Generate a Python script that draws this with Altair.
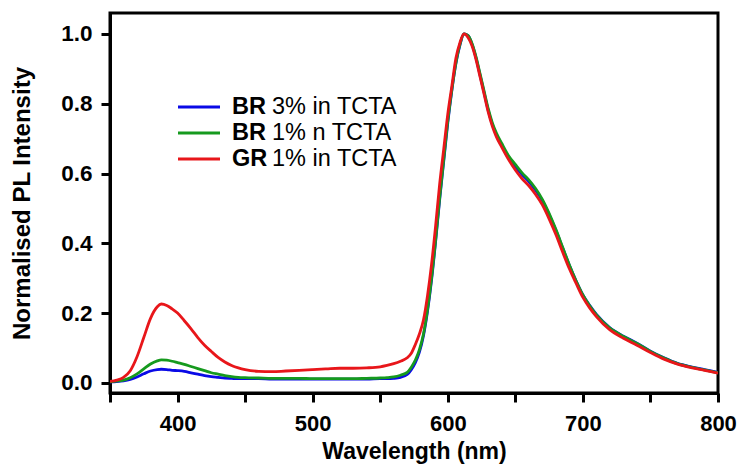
import altair as alt
import pandas as pd

wavelength = [350, 355, 360, 365, 370, 375, 380, 385, 388, 392, 396, 400, 405, 410, 415, 420, 425, 430, 435, 440,
              445, 450, 460, 470, 480, 490, 500, 510, 520, 530, 540, 550, 555, 560, 565, 570, 573, 576, 579, 582,
              585, 588, 591, 594, 597, 600, 603, 606, 609, 612, 615, 618, 621, 624, 627, 630, 633, 636, 640, 645,
              650, 655, 660, 665, 670, 675, 680, 685, 690, 695, 700, 705, 710, 720, 730, 740, 750, 760, 770, 780,
              790, 800]

br3 = [0.003, 0.004, 0.006, 0.010, 0.017, 0.026, 0.034, 0.038, 0.039, 0.038, 0.036, 0.035, 0.033, 0.029, 0.025, 0.021, 0.018, 0.016, 0.014, 0.013,
       0.012, 0.012, 0.012, 0.011, 0.011, 0.011, 0.011, 0.011, 0.011, 0.011, 0.011, 0.012, 0.012, 0.013, 0.016, 0.024, 0.038, 0.058, 0.088, 0.135,
       0.205, 0.295, 0.405, 0.525, 0.635, 0.745, 0.838, 0.915, 0.968, 1.000, 0.995, 0.970, 0.930, 0.880, 0.830, 0.780, 0.740, 0.710, 0.680, 0.645,
       0.620, 0.597, 0.577, 0.552, 0.522, 0.482, 0.437, 0.387, 0.337, 0.292, 0.252, 0.222, 0.196, 0.158, 0.134, 0.114, 0.091, 0.072, 0.056, 0.046,
       0.038, 0.030]

br1 = [0.003, 0.005, 0.008, 0.015, 0.026, 0.040, 0.054, 0.063, 0.066, 0.065, 0.062, 0.058, 0.053, 0.047, 0.041, 0.035, 0.029, 0.025, 0.021, 0.018,
       0.016, 0.015, 0.014, 0.013, 0.013, 0.013, 0.012, 0.012, 0.012, 0.012, 0.013, 0.014, 0.015, 0.017, 0.022, 0.030, 0.045, 0.065, 0.095, 0.140,
       0.210, 0.300, 0.410, 0.530, 0.640, 0.750, 0.840, 0.917, 0.970, 1.000, 0.995, 0.972, 0.933, 0.884, 0.834, 0.785, 0.745, 0.716, 0.686, 0.651,
       0.626, 0.602, 0.582, 0.557, 0.526, 0.486, 0.440, 0.389, 0.338, 0.292, 0.252, 0.221, 0.195, 0.157, 0.133, 0.113, 0.090, 0.071, 0.055, 0.045,
       0.037, 0.029]

gr1 = [0.004, 0.008, 0.016, 0.035, 0.075, 0.130, 0.185, 0.218, 0.226, 0.222, 0.212, 0.200, 0.178, 0.155, 0.130, 0.108, 0.090, 0.073, 0.060, 0.050,
       0.043, 0.038, 0.033, 0.032, 0.034, 0.036, 0.038, 0.040, 0.042, 0.042, 0.043, 0.046, 0.050, 0.055, 0.062, 0.072, 0.085, 0.110, 0.140, 0.180,
       0.250, 0.340, 0.450, 0.570, 0.670, 0.770, 0.850, 0.930, 0.975, 1.000, 0.990, 0.965, 0.925, 0.875, 0.825, 0.775, 0.735, 0.705, 0.675, 0.640,
       0.610, 0.585, 0.565, 0.540, 0.510, 0.470, 0.425, 0.375, 0.327, 0.285, 0.245, 0.215, 0.190, 0.152, 0.128, 0.108, 0.087, 0.068, 0.054, 0.044,
       0.036, 0.028]

series_names = ["BR 3% in TCTA", "BR 1% n TCTA", "GR 1% in TCTA"]
series_colors = ["#0a0ae6", "#169a1e", "#e8161a"]
legend_bold = ["BR", "BR", "GR"]
legend_rest = ["3% in TCTA", "1% n TCTA", "1% in TCTA"]

rows = []
for name, vals in zip(series_names, [br3, br1, gr1]):
    for w, v in zip(wavelength, vals):
        rows.append({"wavelength": w, "intensity": v, "series": name})
df = pd.DataFrame(rows)
one_row = pd.DataFrame({"k": [0]})

FONT = "Liberation Sans"

x_enc = alt.X("wavelength:Q",
              scale=alt.Scale(domain=[350, 800], nice=False, zero=False),
              axis=alt.Axis(title="Wavelength (nm)",
                            values=[350, 400, 450, 500, 550, 600, 650, 700, 750, 800],
                            labelExpr="datum.value % 100 === 0 ? datum.label : ''",
                            format="d", grid=False,
                            tickSize=9, tickWidth=3, tickColor="black",
                            domainWidth=3, domainColor="black",
                            labelFont=FONT, labelFontSize=22, labelFontWeight="bold", labelColor="black",
                            labelPadding=11, labelFlush=False,
                            titleFont=FONT, titleFontSize=23, titleFontWeight="bold", titleColor="black",
                            titlePadding=6))
y_enc = alt.Y("intensity:Q",
              scale=alt.Scale(domain=[-0.029, 1.06], nice=False, zero=False),
              axis=alt.Axis(title="Normalised PL Intensity",
                            values=[0.0, 0.2, 0.4, 0.6, 0.8, 1.0],
                            format=".1f", grid=False,
                            tickSize=9, tickWidth=3, tickColor="black",
                            domainWidth=3, domainColor="black",
                            labelFont=FONT, labelFontSize=22.5, labelFontWeight="bold", labelColor="black",
                            labelPadding=9, labelFlush=False,
                            titleFont=FONT, titleFontSize=24, titleFontWeight="bold", titleColor="black",
                            titlePadding=26))

lines = alt.Chart(df).mark_line(strokeWidth=2.8, interpolate="monotone", clip=True).encode(
    x=x_enc, y=y_enc,
    color=alt.Color("series:N", scale=alt.Scale(domain=series_names, range=series_colors), legend=None),
    order=alt.Order("wavelength:Q"),
    detail="series:N",
)

layers = [lines]
row_y = [94, 120, 146]
for i in range(3):
    layers.append(alt.Chart(one_row).mark_rule(color=series_colors[i], strokeWidth=2.8).encode(
        x=alt.value(68), x2=alt.value(110), y=alt.value(row_y[i])))
    layers.append(alt.Chart(one_row).mark_text(text=legend_bold[i], font=FONT, fontSize=23.5, fontWeight="bold",
                                               align="left", baseline="middle", color="black").encode(
        x=alt.value(122), y=alt.value(row_y[i])))
    layers.append(alt.Chart(one_row).mark_text(text=legend_rest[i], font=FONT, fontSize=23.5, fontWeight="normal",
                                               align="left", baseline="middle", color="black").encode(
        x=alt.value(162), y=alt.value(row_y[i])))

chart = alt.layer(*layers).properties(
    width=608, height=380,
    autosize=alt.AutoSizeParams(type="none"),
    padding={"left": 102, "top": 5, "right": 20, "bottom": 73},
    background="white",
).configure_view(stroke="black", strokeWidth=3)

chart.save("out.html", embed_options={"renderer": "svg", "actions": False})
